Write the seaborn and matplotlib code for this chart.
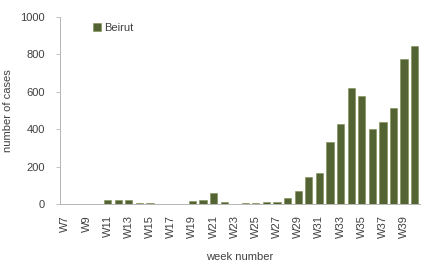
import numpy as np
import pandas as pd
import matplotlib
matplotlib.use("Agg")
import matplotlib.pyplot as plt
import seaborn as sns

weeks = [f"W{i}" for i in range(7, 41)]
cases = [0, 0, 0, 3, 20, 20, 20, 5, 6, 3, 0, 0, 15, 20, 60, 12, 3, 5, 8, 12,
         10, 32, 70, 145, 165, 330, 430, 622, 575, 400, 440, 515, 777, 845]
series_name = "Beirut"
bar_color = "#566B2B"

df = pd.DataFrame({"week": weeks, "cases": cases, "city": series_name})

sns.set_style("white")
plt.rcParams['font.family'] = ['Liberation Sans', 'DejaVu Sans']

fig = plt.figure(figsize=(4.24, 2.64), dpi=100)
ax = fig.add_axes([0.1415, 0.227, 0.849, 0.709])

sns.barplot(data=df, x="week", y="cases", hue="city", palette=[bar_color],
            width=0.68, ax=ax, edgecolor="#7d8f50", linewidth=0.4)

ax.set_ylim(0, 1000)
ax.set_yticks(np.arange(0, 1001, 200))
ax.set_xlim(-0.5, len(weeks) - 0.5)
ax.set_xticks(range(0, len(weeks), 2))
ax.set_xticklabels(weeks[::2], rotation=90)
ax.set_xticks(np.arange(-0.5, len(weeks), 1), minor=True)
ax.tick_params(axis="x", which="major", length=0, labelsize=8, colors="#404040", pad=8)
ax.tick_params(axis="x", which="minor", length=3, width=0.5, color="#aaaaaa", direction="out")
ax.tick_params(axis="y", length=3, width=0.5, color="#aaaaaa", labelsize=8, labelcolor="#404040",
               left=True, pad=8)

for s in ["top", "right"]:
    ax.spines[s].set_visible(False)
for s in ["left", "bottom"]:
    ax.spines[s].set_color("#aaaaaa")
    ax.spines[s].set_linewidth(0.6)

ax.set_xlabel("week number", fontsize=8, color="#404040", labelpad=10)
ax.set_ylabel("number of cases", fontsize=8, color="#404040", labelpad=5)

leg = ax.legend(loc="upper left", bbox_to_anchor=(0.08, 0.99), frameon=False,
                fontsize=8, handlelength=0.7, handleheight=0.7, handletextpad=0.3,
                borderaxespad=0)
for t in leg.get_texts():
    t.set_color("#404040")

fig.savefig("out.png", dpi=100)
